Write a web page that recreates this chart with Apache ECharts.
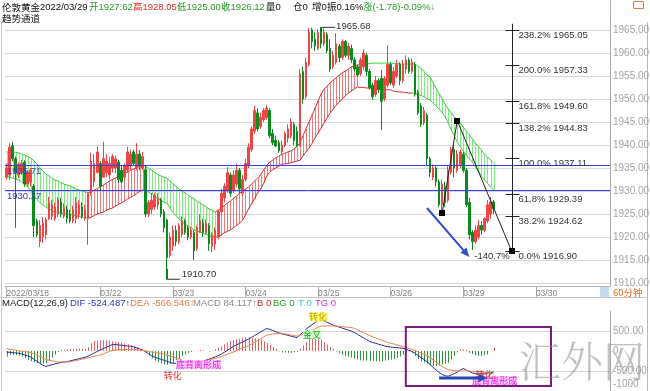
<!DOCTYPE html>
<html><head><meta charset="utf-8">
<script src="https://cdn.jsdelivr.net/npm/echarts@6/dist/echarts.min.js"></script>
<style>html,body{margin:0;padding:0;background:#fff;}#c{width:650px;height:391px;}</style>
</head><body><div id="c"></div>
<script>
// ---------------- DATA ----------------
const dayLabels = {0:'2022/03/18',31:'03/22',55:'03/23',79:'03/24',103:'03/25',127:'03/26',151:'03/29',175:'03/30'};
const slotCount = 200;
const priceTicks = [1910,1915,1920,1925,1930,1935,1940,1945,1950,1955,1960,1965];

// [open, close, low, high]
const candles = [
[1933.0,1935.0,1932.5,1936.0],[1933.5,1939.5,1932.4,1940.4],[1939.8,1937.0,1936.5,1940.7],[1937.0,1934.0,1922.0,1937.5],
[1933.5,1935.8,1932.8,1936.2],[1934.0,1936.0,1933.5,1936.8],[1936.2,1931.5,1930.9,1936.7],[1931.5,1934.0,1931.0,1934.5],
[1932.0,1934.5,1931.0,1935.0],[1931.0,1922.5,1920.0,1931.5],[1923.5,1920.5,1920.0,1924.0],[1919.0,1922.5,1917.8,1923.7],
[1920.0,1923.0,1918.7,1924.3],[1920.5,1923.8,1919.5,1924.3],[1924.0,1927.5,1923.7,1928.7],[1924.5,1927.0,1923.7,1928.0],
[1924.0,1926.5,1923.5,1927.5],[1925.0,1928.0,1924.3,1928.7],[1927.5,1925.0,1924.3,1928.5],[1924.5,1926.5,1924.0,1927.3],
[1926.0,1924.0,1923.0,1926.8],[1925.0,1923.5,1923.0,1925.9],[1923.5,1926.0,1923.0,1926.8],[1924.0,1927.5,1923.0,1928.7],
[1925.0,1927.0,1924.0,1928.0],[1926.5,1924.5,1924.0,1927.5],[1924.0,1926.0,1923.5,1927.0],[1924.0,1929.5,1918.3,1929.6],
[1929.5,1936.5,1929.0,1938.3],[1932.0,1936.0,1930.9,1938.0],[1934.0,1938.5,1933.9,1939.6],[1936.0,1931.0,1930.2,1936.5],
[1933.0,1937.0,1933.0,1940.7],[1934.0,1936.5,1933.0,1938.0],[1933.5,1936.0,1932.5,1937.5],[1935.0,1937.5,1934.0,1938.0],
[1935.0,1937.0,1933.9,1937.7],[1936.3,1932.5,1931.7,1936.8],[1934.5,1932.0,1931.7,1935.5],[1933.0,1935.5,1932.5,1936.0],
[1934.5,1938.5,1934.0,1939.6],[1935.5,1938.0,1934.6,1939.0],[1938.5,1936.0,1935.5,1939.0],[1935.0,1938.0,1934.5,1940.4],
[1938.0,1935.5,1934.6,1938.9],[1935.0,1937.5,1934.6,1938.5],[1934.6,1925.0,1924.3,1935.5],[1925.0,1927.5,1924.3,1928.0],
[1926.0,1928.0,1925.0,1929.6],[1926.5,1929.0,1925.9,1929.6],[1927.0,1928.5,1926.0,1929.5],[1928.0,1925.0,1924.3,1928.5],
[1925.5,1922.0,1921.0,1926.0],[1923.7,1915.5,1910.7,1924.0],[1916.0,1920.0,1915.5,1921.0],[1918.0,1921.5,1917.0,1922.5],
[1921.5,1919.0,1918.0,1922.5],[1919.0,1922.5,1918.5,1923.0],[1920.5,1923.5,1920.0,1924.5],[1923.5,1921.0,1920.5,1924.0],
[1922.0,1920.0,1919.3,1922.5],[1920.0,1921.5,1919.5,1922.3],[1921.0,1917.0,1915.0,1921.5],[1917.5,1922.0,1917.0,1922.5],
[1921.0,1923.5,1920.9,1925.0],[1923.0,1921.0,1920.0,1924.0],[1921.0,1923.0,1920.5,1923.8],[1922.5,1918.5,1917.0,1923.0],
[1918.0,1920.5,1916.7,1921.0],[1918.5,1921.5,1917.2,1922.0],[1920.0,1925.5,1919.5,1926.0],[1925.5,1929.5,1925.0,1930.5],
[1928.5,1931.0,1927.5,1931.7],[1930.0,1934.0,1929.6,1935.2],[1933.5,1929.5,1928.7,1934.0],[1930.0,1933.5,1929.5,1934.5],
[1931.5,1934.5,1930.9,1936.0],[1934.5,1930.5,1929.5,1935.0],[1929.5,1932.5,1929.0,1933.5],[1932.5,1936.0,1932.0,1937.0],
[1935.5,1939.5,1935.0,1940.4],[1939.0,1943.5,1938.5,1944.0],[1943.0,1947.5,1942.5,1948.5],[1947.0,1943.5,1943.0,1948.0],
[1944.0,1946.0,1943.5,1947.0],[1945.5,1947.5,1945.0,1948.0],[1946.0,1948.0,1945.5,1948.7],[1947.5,1942.0,1941.5,1948.0],
[1942.5,1940.5,1940.0,1943.5],[1941.0,1939.8,1939.5,1942.0],[1940.5,1938.8,1938.3,1941.0],[1938.5,1940.0,1938.0,1941.0],
[1940.0,1942.5,1939.5,1943.0],[1941.5,1943.5,1940.5,1944.5],[1942.0,1945.0,1941.5,1945.8],[1944.5,1941.0,1940.0,1945.0],
[1943.0,1940.0,1939.5,1944.0],[1940.0,1955.5,1939.6,1956.5],[1956.0,1950.0,1949.0,1957.0],[1950.5,1958.0,1950.0,1959.0],
[1957.5,1964.5,1957.0,1965.4],[1965.0,1962.5,1961.0,1965.5],[1963.0,1961.5,1960.5,1964.5],[1961.0,1964.5,1960.6,1965.2],
[1965.2,1962.0,1961.0,1965.68],[1962.0,1964.5,1961.5,1965.3],[1964.0,1960.5,1960.0,1964.5],[1961.0,1956.5,1955.9,1963.0],
[1957.0,1959.5,1956.5,1960.5],[1958.0,1962.0,1957.5,1964.3],[1961.5,1959.0,1958.0,1962.0],[1959.0,1962.5,1958.5,1963.0],
[1962.5,1959.5,1959.0,1962.8],[1959.5,1961.5,1958.5,1962.2],[1961.0,1958.5,1957.8,1961.8],[1958.5,1956.5,1956.0,1959.1],
[1957.0,1955.2,1954.8,1957.5],[1955.5,1958.5,1955.0,1959.0],[1957.0,1960.0,1956.3,1960.8],[1959.5,1956.0,1955.0,1960.0],
[1956.0,1952.5,1952.0,1956.5],[1953.0,1950.5,1949.8,1953.5],[1951.0,1954.0,1950.5,1955.0],[1954.0,1952.0,1951.3,1954.5],
[1954.5,1949.5,1943.3,1956.3],[1950.0,1954.5,1949.5,1955.0],[1953.0,1957.5,1952.5,1961.7],[1957.5,1953.5,1953.0,1958.0],
[1953.0,1956.0,1952.5,1957.0],[1955.0,1957.5,1954.5,1958.5],[1957.5,1954.0,1953.0,1958.0],[1954.0,1957.5,1953.5,1958.5],
[1956.5,1958.5,1955.5,1959.5],[1958.5,1956.0,1955.5,1959.0],[1956.0,1958.0,1955.5,1958.8],[1957.5,1951.0,1950.5,1958.0],
[1951.5,1947.0,1946.5,1952.0],[1948.5,1944.5,1943.9,1949.1],[1944.8,1947.5,1944.3,1948.3],[1946.5,1937.0,1935.5,1947.0],
[1937.0,1934.0,1933.0,1937.5],[1933.0,1935.0,1932.4,1935.8],[1935.0,1932.0,1931.0,1935.5],[1932.0,1927.0,1926.5,1932.5],
[1927.0,1931.5,1925.2,1932.5],[1931.0,1927.5,1926.5,1932.0],[1928.0,1934.5,1927.5,1935.5],[1934.0,1939.0,1933.5,1939.6],
[1939.0,1935.0,1933.0,1940.0],[1934.5,1938.0,1933.9,1938.9],[1935.5,1938.5,1935.0,1939.0],[1938.0,1934.5,1934.0,1938.5],
[1934.5,1927.0,1926.5,1935.0],[1927.5,1920.5,1919.5,1928.5],[1921.0,1919.0,1917.2,1921.5],[1919.0,1921.5,1918.5,1922.5],
[1920.0,1922.5,1919.5,1923.7],[1922.5,1921.5,1920.5,1923.5],[1921.5,1924.0,1921.0,1924.3],[1923.5,1927.0,1923.0,1928.0],
[1925.0,1927.6,1924.0,1928.7],[1927.62,1926.12,1925.00,1928.05]
];

const bandUpper = [
1938.5,1938.5,1938.5,1938.4,1938.3,1938.0,1937.8,1937.5,1937.2,1936.6,1935.9,1935.1,1934.3,1933.7,1933.3,1932.8,
1932.4,1932.2,1931.8,1931.5,1931.3,1931.1,1930.8,1930.4,1930.2,1930.0,1929.8,1929.6,
1929.9,1930.2,1930.5,1930.9,1931.3,1931.7,1932.2,1932.5,1932.8,1933.2,1933.5,1933.8,1934.1,1934.5,1934.8,1935.1,1935.4,1935.7,
1935.3,1934.9,1934.5,1934.0,1933.6,1933.3,1933.0,1932.8,1932.2,1931.6,1931.1,1930.4,1930.0,1929.6,1929.1,1928.7,
1928.3,1927.8,1927.4,1927.0,1926.5,1926.1,1925.8,1925.4,
1925.9,1926.3,1926.8,1927.4,1927.8,1928.4,1928.9,1929.5,1930.0,1930.4,1930.9,1931.4,1932.2,1932.8,1933.5,1934.6,
1935.5,1936.3,1936.7,1937.2,1937.6,1937.9,1938.2,1938.5,1938.7,1939.1,1939.8,1940.4,1942.0,1943.5,1945.0,1946.5,
1948.0,1949.6,1951.1,1952.2,1952.8,1953.5,1954.1,1954.6,1955.2,1955.7,1956.1,1956.5,1957.0,1957.2,1957.4,
1957.5,1957.6,1957.6,1957.7,1957.8,1957.8,1957.8,1957.8,1957.8,1957.8,1957.8,1957.7,1957.7,1957.6,1957.6,1957.6,1957.6,1957.6,
1957.6,1957.2,1956.7,1956.0,1955.2,1954.8,1953.5,1952.3,1951.2,1950.0,1948.9,1947.8,1947.0,1946.2,1945.4,1944.8,
1943.9,1943.0,1942.2,1941.3,1940.4,1939.7,1938.9,1938.0,1937.4,1936.7,1936.1
];
const bandLower = [
1933.3,1933.0,1932.8,1932.6,1932.4,1932.0,1931.5,1930.9,1930.0,1929.1,1928.3,1927.5,1927.0,1926.5,1926.1,1925.8,
1925.4,1925.3,1925.2,1925.1,1925.0,1924.9,1924.8,1924.6,1924.5,1924.3,1924.2,1924.1,
1924.3,1924.7,1925.0,1925.2,1925.4,1925.8,1926.1,1926.3,1926.7,1927.1,1927.4,1927.8,1928.3,1928.6,1929.0,1929.5,1929.9,1930.2,
1930.1,1929.8,1929.3,1928.9,1928.4,1928.0,1927.6,1927.4,1926.3,1925.4,1924.7,1923.9,1923.4,1922.8,1922.4,1922.0,
1921.5,1921.3,1921.1,1920.8,1920.5,1920.3,1920.2,1920.0,
1920.0,1920.4,1920.9,1921.2,1921.5,1922.0,1922.5,1923.0,1923.6,1924.8,1926.1,1927.2,1928.3,1929.6,1930.4,1931.7,
1933.2,1934.1,1934.6,1935.0,1935.4,1935.8,1935.9,1936.0,1936.1,1936.3,1936.5,1936.7,1937.6,1938.5,1939.3,1940.4,
1941.5,1942.6,1943.7,1944.8,1945.9,1947.0,1947.8,1948.7,1949.3,1950.0,1950.7,1951.3,1951.7,1952.2,1952.6,
1952.5,1952.5,1952.4,1952.4,1952.4,1952.3,1952.2,1952.2,1952.1,1952.0,1952.0,1951.7,1951.6,1951.5,1951.5,1951.4,1951.3,1951.3,
1951.3,1951.0,1950.8,1950.5,1950.1,1949.8,1949.1,1948.5,1947.8,1947.0,1946.1,1944.8,1943.3,1942.0,1940.7,1939.6,
1938.7,1937.8,1937.0,1936.3,1935.2,1934.3,1933.3,1932.4,1931.7,1930.9,1930.2
];
// [firstIndex, lastIndex, trend]  1 = up (red), -1 = down (green), 0 = sideways
const bandSegments = [[0,27,-1],[28,45,1],[46,69,-1],[70,116,1],[117,134,0],[135,161,-1]];

const difValues = [
-25,-33,-40,-48,-55,-72,-98,-123,-155,-205,-256,-306,-356,-387,-365,-343,-322,-303,-290,-276,-263,-250,-230,-211,-192,-174,-154,-127,
-89,-50,-10,28,61,94,128,161,161,152,143,134,125,116,103,78,53,28,-20,-71,-121,-157,-182,-207,-232,-257,-282,-306,-307,-307,-307,
-307,-307,-302,-287,-273,-258,-243,-229,-204,-175,-146,-116,-79,-31,17,65,113,150,188,225,262,299,342,386,430,475,520,564,542,513,
484,455,431,412,392,373,353,334,404,474,545,604,658,712,766,787,752,717,682,648,622,597,572,547,521,496,462,418,373,329,285,240,
214,192,170,148,125,106,99,91,84,76,69,44,18,-8,-52,-106,-161,-214,-268,-335,-404,-471,-538,-584,-621,-630,-597,-564,-528,-478,
-437,-474,-512,-550,-564,-571,-579,-574,-556,-539,-524.487
];
const deaValues = [
60,46,33,20,6,-5,-14,-23,-38,-71,-105,-138,-172,-206,-230,-247,-263,-275,-274,-273,-271,-270,-253,-236,-219,-202,-185,-168,
-151,-133,-116,-97,-70,-42,-13,14,23,27,31,34,38,42,43,34,25,16,3,-11,-24,-37,-49,-61,-76,-100,-125,-149,-176,-202,-230,
-247,-264,-273,-267,-261,-254,-248,-242,-225,-204,-183,-162,-138,-110,-82,-54,-26,6,39,71,103,134,174,218,262,306,351,396,410,422,
434,445,442,427,413,399,385,371,391,412,433,468,511,553,594,621,623,626,628,630,622,614,607,599,592,584,564,529,493,458,422,386,
356,327,299,271,242,215,195,174,153,132,111,88,63,39,11,-19,-50,-80,-110,-165,-222,-278,-333,-383,-432,-465,-477,-489,-499,-485,
-471,-485,-498,-512,-519,-524,-528,-535,-546,-555,-566.546
];
const macdValues = [
-140,-89,-90,-102,-114,-141,-181,-220,-256,-280,-304,-328,-318,-305,-248,-165,-83,-22,23,31,39,47,55,60,60,60,60,98,
193,253,260,266,272,270,259,248,237,226,210,190,170,150,129,97,54,8,-54,-116,-180,-244,-278,-308,-338,-341,-325,-310,-277,-200,-120,
-86,-52,-24,-5,13,30,14,-1,-16,5,40,79,123,167,212,253,273,293,313,333,348,338,328,318,308,291,245,199,153,106,
48,-8,-34,-40,-46,-46,-33,-20,64,146,224,302,380,349,319,279,221,165,106,46,-16,-56,-90,-122,-144,-166,-188,-210,-231,-235,-240,-244,
-249,-253,-258,-254,-241,-229,-217,-205,-175,-133,-91,-50,-13,-48,-123,-198,-259,-287,-315,-343,-372,-382,-362,-341,-320,-294,-209,-123,-36,40,
34,23,-46,-79,-103,-127,-129,-107,-84,2,84.117
];

const refLines = [1935.71, 1930.27];
const lastClose = 1926.12;
const fibIndex = 167;
const fibLevels = [[238.2,1965.05],[200.0,1957.33],[161.8,1949.60],[138.2,1944.83],[100.0,1937.11],[61.8,1929.39],[38.2,1924.62],[0.0,1916.90]];
const fibPoints = [[144.1,1925.15],[148.5,1945.28],[167,1916.90]];
const arrowFrom = [139.3,1926.3], arrowTo = [153.2,1915.65], arrowText = '-140.7%';
const highPoint = [104,1965.68], lowPoint = [53,1910.70];
const macdBox = [[132.1,600],[179.7,-875]];
const macdArrow = [[142.6,-675],[158.6,-675]];
const macdNotes = [
  {at:[52.4,-612], text:'转化', kind:'red'},
  {at:[56.4,-340], text:'底背离形成', kind:'pink'},
  {at:[100.0,850], text:'转化', kind:'yellow'},
  {at:[98.0,420], text:'金叉', kind:'green'},
  {at:[154.2,-740], text:'底背离形成', kind:'pink'},
  {at:[154.6,-590], text:'转化', kind:'red'}
];

// ---------------- STYLE ----------------
const FONT = '"Liberation Sans", Arial, "Noto Sans CJK SC", sans-serif';
const UP = '#f04545', DOWN = '#0b8a1e';
const HATCH_RED = '#f07a7a', HATCH_GREEN = '#7bee7b', LINE_RED = '#e02a2a', LINE_GREEN = '#3ccc3c';
const noteStyle = {
  red:{fill:'#e03030'}, pink:{fill:'#e020e0', backgroundColor:'#ffc8ff'},
  yellow:{fill:'#c0a000', backgroundColor:'#ffff70'}, green:{fill:'#20b020', backgroundColor:'#d8ffd8'}
};
function trendAt(i){ for (const s of bandSegments) if (i>=s[0] && i<=s[1]) return s[2]; return 0; }

const categories = [];
for (let i=0;i<slotCount;i++) categories.push(String(i));

function renderBand(params, api){
  const i = api.value(0);
  const t = trendAt(i);
  const pu = api.coord([i, bandUpper[i]]), pl = api.coord([i, bandLower[i]]);
  const x = Math.round(pu[0]) + 0.5;
  const ch = [];
  if (t !== 0) ch.push({type:'line', shape:{x1:x,y1:pu[1],x2:x,y2:pl[1]}, style:{stroke: t>0?HATCH_RED:HATCH_GREEN, lineWidth:1}});
  if (i > 0){
    const qu = api.coord([i-1, bandUpper[i-1]]), ql = api.coord([i-1, bandLower[i-1]]);
    const cu = t>0 ? LINE_RED : LINE_GREEN;
    const cl = t<0 ? LINE_GREEN : LINE_RED;
    ch.push({type:'line', shape:{x1:qu[0],y1:qu[1],x2:pu[0],y2:pu[1]}, style:{stroke:cu,lineWidth:1}});
    ch.push({type:'line', shape:{x1:ql[0],y1:ql[1],x2:pl[0],y2:pl[1]}, style:{stroke:cl,lineWidth:1}});
  }
  return {type:'group', children:ch};
}

function arrowHead(p0, p1, len, half, color){
  const dx = p1[0]-p0[0], dy = p1[1]-p0[1], d = Math.hypot(dx,dy);
  const ux = dx/d, uy = dy/d, nx = -uy, ny = ux;
  return {type:'polygon', shape:{points:[[p1[0],p1[1]],[p1[0]-ux*len+nx*half,p1[1]-uy*len+ny*half],[p1[0]-ux*len-nx*half,p1[1]-uy*len-ny*half]]}, style:{fill:color}};
}

function renderDrawings(params, api){
  const ch = [];
  const cs = params.coordSys;
  refLines.forEach(v=>{
    const y = Math.round(api.coord([0, v])[1]) + 0.5;
    ch.push({type:'line', shape:{x1:cs.x,y1:y,x2:cs.x+cs.width,y2:y}, style:{stroke:'#3a3aee',lineWidth:1}});
    ch.push({type:'text', x:cs.x+2, y:y+1.5, style:{text:v.toFixed(2), fill:'#3838b8', font:'9.5px '+FONT, verticalAlign:'top'}});
  });
  const fx = Math.round(api.coord([fibIndex, 1930])[0]) + 0.5;
  const top = api.coord([fibIndex, fibLevels[0][1]])[1];
  const bot = api.coord([fibIndex, fibLevels[fibLevels.length-1][1]])[1];
  ch.push({type:'line', shape:{x1:fx,y1:top-6,x2:fx,y2:bot}, style:{stroke:'#222',lineWidth:1}});
  fibLevels.forEach(l=>{
    const y = Math.round(api.coord([fibIndex, l[1]])[1]) + 0.5;
    ch.push({type:'line', shape:{x1:fx-7,y1:y,x2:fx+7,y2:y}, style:{stroke:'#222',lineWidth:1}});
    ch.push({type:'text', x:fx+6, y:y+0.5, style:{text:l[0].toFixed(1)+'% '+l[1].toFixed(2), fill:'#333', font:'9.5px '+FONT, verticalAlign:'top'}});
  });
  const pts = fibPoints.map(p=>api.coord(p));
  ch.push({type:'polyline', shape:{points:pts}, style:{stroke:'#222', lineWidth:1, fill:null}});
  pts.forEach(p=>ch.push({type:'rect', shape:{x:Math.round(p[0])-3,y:Math.round(p[1])-3,width:6,height:6}, style:{fill:'#000'}}));
  const a0 = api.coord(arrowFrom), a1 = api.coord(arrowTo);
  ch.push({type:'line', shape:{x1:a0[0],y1:a0[1],x2:a1[0]-(a1[0]-a0[0])*0.12,y2:a1[1]-(a1[1]-a0[1])*0.12}, style:{stroke:'#3050c8',lineWidth:2}});
  ch.push(arrowHead(a0,a1,9,4,'#3050c8'));
  ch.push({type:'text', x:a1[0]+5, y:a1[1]-1, style:{text:arrowText, fill:'#333', font:'9.5px '+FONT, verticalAlign:'middle'}});
  const h = api.coord(highPoint);
  ch.push({type:'polyline', shape:{points:[[h[0]+0.5,h[1]+4],[h[0]+0.5,h[1]+0.5],[h[0]+14,h[1]+0.5]]}, style:{stroke:'#333',lineWidth:1,fill:null}});
  ch.push({type:'text', x:h[0]+15, y:h[1], style:{text:highPoint[1].toFixed(2), fill:'#333', font:'9.5px '+FONT, verticalAlign:'middle'}});
  const lo = api.coord(lowPoint);
  ch.push({type:'polyline', shape:{points:[[lo[0]+0.5,lo[1]-11],[lo[0]+0.5,lo[1]-0.5],[lo[0]+13,lo[1]-0.5]]}, style:{stroke:'#333',lineWidth:1,fill:null}});
  ch.push({type:'text', x:lo[0]+15, y:lo[1]-5, style:{text:lowPoint[1].toFixed(2), fill:'#333', font:'9.5px '+FONT, verticalAlign:'middle'}});
  return {type:'group', children:ch};
}

function renderHist(params, api){
  const i = api.value(0), v = api.value(1);
  const p0 = api.coord([i,0]), p1 = api.coord([i,v]);
  const x = Math.round(p0[0]) + 0.5;
  return {type:'line', shape:{x1:x,y1:p0[1],x2:x,y2:p1[1]}, style:{stroke: v>=0?'#f06262':'#2a9a3a', lineWidth:1}};
}

function renderMacdNotes(params, api){
  const ch = [];
  const b0 = api.coord(macdBox[0]), b1 = api.coord(macdBox[1]);
  ch.push({type:'rect', shape:{x:b0[0],y:b0[1],width:b1[0]-b0[0],height:b1[1]-b0[1]}, style:{stroke:'#7a1a7a',lineWidth:2,fill:null}});
  macdNotes.forEach(n=>{
    const p = api.coord(n.at);
    const s = noteStyle[n.kind];
    ch.push({type:'text', x:p[0], y:p[1], style:Object.assign({text:n.text, font:'9px "Noto Sans CJK SC", sans-serif', verticalAlign:'middle'}, s)});
  });
  const m0 = api.coord(macdArrow[0]), m1 = api.coord(macdArrow[1]);
  ch.push({type:'line', shape:{x1:m0[0],y1:m0[1],x2:m1[0]-8,y2:m1[1]}, style:{stroke:'#2848b0',lineWidth:3}});
  ch.push(arrowHead(m0,m1,9,4,'#2848b0'));
  return {type:'group', children:ch};
}

const chart = echarts.init(document.getElementById('c'), null, {renderer:'canvas'});
const dayIdx = (i)=> dayLabels[i] !== undefined;

chart.setOption({
  animation:false,
  backgroundColor:'#fff',
  grid:[
    {left:5, right:40, top:22, height:264, outerBoundsMode:'none'},
    {left:5, right:40, top:311, height:80, outerBoundsMode:'none'}
  ],
  xAxis:[
    {type:'category', gridIndex:0, data:categories, boundaryGap:true,
     axisLine:{lineStyle:{color:'#b4b4b4'}},
     axisTick:{show:true, alignWithLabel:true, interval:(i)=>dayIdx(i), length:11, lineStyle:{color:'#b0b0b0'}},
     axisLabel:{interval:(i)=>dayIdx(i), formatter:(v,i)=>dayLabels[i]||'', align:'left', margin:3, color:'#808080', fontSize:8.5, fontFamily:FONT, hideOverlap:false},
     splitLine:{show:false}},
    {type:'category', gridIndex:1, data:categories, boundaryGap:true, show:false}
  ],
  yAxis:[
    {type:'value', gridIndex:0, position:'right', min:1909.348, max:1966.739,
     axisLine:{show:true, lineStyle:{color:'#a8a8a8'}},
     axisTick:{show:false, customValues:priceTicks},
     axisLabel:{customValues:priceTicks, formatter:(v)=>v.toFixed(2), color:'#a4a4a4', fontSize:10, margin:3, fontFamily:FONT},
     splitLine:{show:true, lineStyle:{color:'#d6d6d6'}}},
    {type:'value', gridIndex:1, position:'right', min:-1000, max:1000, interval:500,
     axisLine:{show:true, lineStyle:{color:'#a8a8a8'}},
     axisTick:{show:false},
     axisLabel:{color:'#a4a4a4', fontSize:10, margin:3, fontFamily:FONT,
       formatter:(v)=> v===1000 ? '' : (v===0 ? '0' : (v===-1000 ? '{l|-1000}' : v.toFixed(2))),
       rich:{l:{color:'#a4a4a4', fontSize:10, fontFamily:FONT, padding:[0,0,13,0]}}},
     splitLine:{show:true, lineStyle:{color:['transparent','#d6d6d6','transparent','#d6d6d6','transparent']}}}
  ],
  series:[
    {type:'custom', name:'band', xAxisIndex:0, yAxisIndex:0, renderItem:renderBand,
     data: bandUpper.map((u,i)=>[i,u,bandLower[i]]), encode:{x:0,y:[1,2]}, silent:true, z:2},
    {type:'candlestick', name:'price', xAxisIndex:0, yAxisIndex:0, data:candles, barWidth:2, z:3,
     itemStyle:{color:UP, color0:DOWN, borderColor:UP, borderColor0:DOWN, borderWidth:1},
     markLine:{silent:true, symbol:'none', animation:false,
       data:[
         {yAxis:lastClose, lineStyle:{opacity:0},
          label:{show:true, position:'end', formatter:lastClose.toFixed(2), color:'#e02020', backgroundColor:'#fff', fontSize:10, fontFamily:FONT, distance:3, padding:[0,1,0,0]}}
       ]}},
    {type:'custom', name:'drawings', xAxisIndex:0, yAxisIndex:0, renderItem:renderDrawings, data:[[0,1930]], silent:true, z:5, clip:false},
    {type:'custom', name:'MACD', xAxisIndex:1, yAxisIndex:1, renderItem:renderHist, data:macdValues.map((v,i)=>[i,v]), silent:true, z:2},
    {type:'line', name:'DIF', xAxisIndex:1, yAxisIndex:1, data:difValues, showSymbol:false, symbol:'none', lineStyle:{color:'#2a2aa8', width:1}, z:3},
    {type:'line', name:'DEA', xAxisIndex:1, yAxisIndex:1, data:deaValues, showSymbol:false, symbol:'none', lineStyle:{color:'#f08048', width:1}, z:3},
    {type:'custom', name:'notes', xAxisIndex:1, yAxisIndex:1, renderItem:renderMacdNotes, data:[[0,0]], silent:true, z:6, clip:false}
  ],
  graphic:[
    {type:'text', left:2, top:3, style:{text:'伦敦黄金', fill:'#111', font:'9.5px "Noto Sans CJK SC", sans-serif'}},
    {type:'text', left:40, top:3, style:{text:'2022/03/29', fill:'#111', font:'9.5px '+FONT}},
    {type:'text', left:89, top:3, style:{text:'开1927.62↑', fill:'#2a9a2a', font:'9.5px '+FONT}},
    {type:'text', left:133, top:3, style:{text:'高1928.05↓', fill:'#e03030', font:'9.5px '+FONT}},
    {type:'text', left:177, top:3, style:{text:'低1925.00↑', fill:'#2a9a2a', font:'9.5px '+FONT}},
    {type:'text', left:221, top:3, style:{text:'收1926.12↓', fill:'#2a9a2a', font:'9.5px '+FONT}},
    {type:'text', left:266, top:3, style:{text:'量0', fill:'#111', font:'9.5px '+FONT}},
    {type:'text', left:293, top:3, style:{text:'仓0', fill:'#111', font:'9.5px '+FONT}},
    {type:'text', left:312, top:3, style:{text:'增0', fill:'#111', font:'9.5px '+FONT}},
    {type:'text', left:327, top:3, style:{text:'振0.16%', fill:'#111', font:'9.5px '+FONT}},
    {type:'text', left:363, top:3, style:{text:'涨(-1.78)-0.09%↓', fill:'#2a9a2a', font:'9.5px '+FONT}},
    {type:'text', left:2, top:14, style:{text:'趋势通道', fill:'#111', font:'9.5px "Noto Sans CJK SC", sans-serif'}},
    {type:'line', shape:{x1:610.5,y1:0,x2:610.5,y2:22}, style:{stroke:'#b0b0b0'}},
    {type:'rect', shape:{x:633.5,y:1.5,width:10,height:7}, style:{stroke:'#e07a3a', fill:'#fff', lineWidth:1}},
    {type:'line', shape:{x1:647.5,y1:22,x2:647.5,y2:391}, style:{stroke:'#b8b8b8'}},
    {type:'line', shape:{x1:1.5,y1:22,x2:1.5,y2:391}, style:{stroke:'#c8c8c8'}},
    {type:'line', shape:{x1:0,y1:297.5,x2:648,y2:297.5}, style:{stroke:'#c4c4c4'}},
    {type:'rect', shape:{x:600,y:287,width:9,height:10}, style:{fill:'#c4dcf2'}},
    {type:'text', left:613, top:288, style:{text:'60分钟', fill:'#e07020', font:'9.5px "Noto Sans CJK SC", sans-serif'}},
    {type:'text', left:2, top:299, style:{text:'MACD(12,26,9)', fill:'#222', font:'9.5px '+FONT}},
    {type:'text', left:70, top:299, style:{text:'DIF -524.487↑', fill:'#3434c4', font:'9.5px '+FONT}},
    {type:'text', left:130, top:299, style:{text:'DEA -566.546↑', fill:'#ee7a48', font:'9.5px '+FONT}},
    {type:'text', left:193, top:299, style:{text:'MACD 84.117↑', fill:'#8a8a8a', font:'9.5px '+FONT}},
    {type:'text', left:257, top:299, style:{text:'B 0', fill:'#c02828', font:'9.5px '+FONT}},
    {type:'text', left:273, top:299, style:{text:'BG 0', fill:'#22a022', font:'9.5px '+FONT}},
    {type:'text', left:298, top:299, style:{text:'T 0', fill:'#30c8d0', font:'9.5px '+FONT}},
    {type:'text', left:315, top:299, style:{text:'TG 0', fill:'#d030d0', font:'9.5px '+FONT}},
    {type:'text', left:519, top:340, z:100, style:{text:'汇外网', fill:'rgba(140,140,140,0.55)', font:'300 42px "Noto Serif CJK SC", "Noto Sans CJK SC", serif'}}
  ]
});
</script>
</body></html>
